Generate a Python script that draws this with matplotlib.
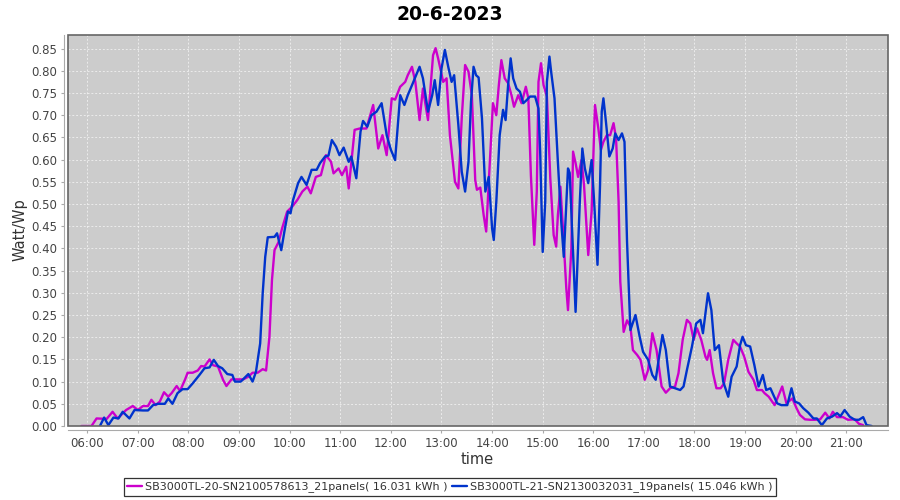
import matplotlib
matplotlib.use("Agg")
import matplotlib.pyplot as plt
from matplotlib.patches import Rectangle

title = "20-6-2023"
series_names = ["SB3000TL-20-SN2100578613_21panels( 16.031 kWh )",
                "SB3000TL-21-SN2130032031_19panels( 15.046 kWh )"]
series_colors = ["#cc00cc", "#0033cc"]

mag_times = ["5:53","6:05","6:11","6:23","6:30","6:36","6:46","6:54","7:00","7:06","7:12","7:16","7:21","7:26",
    "7:31","7:36","7:40","7:46","7:50","7:56","7:59","8:05","8:11","8:15","8:19","8:25","8:29","8:35","8:41",
    "8:45","8:51","8:59","9:05","9:11","9:16","9:22","9:28","9:32","9:36","9:39","9:42","9:47","9:51","9:57",
    "10:03","10:09","10:15","10:21","10:25","10:31","10:37","10:43","10:49","10:52","10:58","11:02","11:07",
    "11:10","11:17","11:23","11:31","11:39","11:45","11:50","11:55","12:01","12:05","12:11","12:17","12:20",
    "12:25","12:29","12:34","12:38","12:44","12:50","12:53","12:56","13:02","13:06","13:10","13:16","13:20",
    "13:24","13:28","13:32","13:36","13:40","13:42","13:46","13:50","13:53","13:58","14:01","14:05","14:08",
    "14:11","14:15","14:19","14:23","14:26","14:31","14:35","14:40","14:43","14:46","14:50","14:53","14:55",
    "14:58","15:01","15:05","15:09","15:13","15:16","15:18","15:21","15:24","15:28","15:30","15:34","15:36",
    "15:39","15:42","15:46","15:49","15:54","15:58","16:02","16:06","16:09","16:12","16:16","16:20","16:24",
    "16:27","16:30","16:32","16:36","16:40","16:44","16:47","16:52","16:56","17:01","17:05","17:10","17:15",
    "17:21","17:26","17:31","17:37","17:41","17:46","17:51","17:55","17:59","18:03","18:08","18:13","18:15",
    "18:18","18:22","18:26","18:31","18:35","18:40","18:46","18:50","18:54","18:59","19:04","19:10","19:14",
    "19:20","19:23","19:28","19:32","19:35","19:44","19:49","19:56","20:01","20:05","20:11","20:17","20:23",
    "20:29","20:35","20:40","20:44","20:49","20:56","21:02","21:10","21:15","21:20"]
mag_values = [0,0,0.017,0.016,0.032,0.017,0.036,0.045,0.036,0.045,0.045,0.059,0.047,0.055,
    0.076,0.066,0.074,0.090,0.079,0.105,0.120,0.120,0.125,0.135,0.134,0.150,0.137,0.134,0.104,
    0.090,0.105,0.105,0.105,0.111,0.120,0.120,0.128,0.125,0.201,0.329,0.396,0.415,0.445,0.483,
    0.494,0.509,0.528,0.539,0.524,0.561,0.565,0.610,0.595,0.569,0.580,0.565,0.584,
    0.535,0.667,0.670,0.670,0.723,0.625,0.655,0.610,0.738,0.735,0.764,0.775,0.790,
    0.809,0.775,0.689,0.760,0.689,0.835,0.851,0.828,0.775,0.783,0.655,0.550,0.535,
    0.693,0.813,0.798,0.745,0.554,0.532,0.537,0.475,0.438,0.618,0.727,0.700,0.768,
    0.824,0.783,0.772,0.745,0.719,0.745,0.727,0.764,0.738,0.565,0.408,0.528,0.775,
    0.817,0.768,0.742,0.558,0.430,0.404,0.475,0.539,0.445,0.310,0.261,0.400,0.618,
    0.592,0.561,0.599,0.543,0.385,0.483,0.723,0.670,0.622,0.640,0.655,0.655,0.682,
    0.648,0.505,0.325,0.212,0.238,0.224,0.171,0.160,0.149,0.104,0.126,0.209,0.171,
    0.089,0.075,0.085,0.089,0.119,0.194,0.239,0.231,0.194,0.220,0.194,0.156,0.149,
    0.171,0.119,0.085,0.085,0.096,0.149,0.194,0.186,0.179,0.156,0.122,0.104,0.081,
    0.081,0.074,0.066,0.055,0.047,0.089,0.051,0.062,0.040,0.025,0.015,0.014,0.014,
    0.015,0.030,0.017,0.032,0.020,0.020,0.014,0.015,0.005,0.002]

blue_times = ["6:15","6:20","6:25","6:31","6:37","6:42","6:50","6:56","7:06","7:12","7:18","7:24","7:32","7:36",
    "7:41","7:47","7:53","7:59","8:05","8:13","8:19","8:25","8:30","8:35","8:40","8:46","8:52","8:55","9:02",
    "9:11","9:16","9:20","9:25","9:28","9:31","9:34","9:42","9:45","9:50","9:54","9:58","10:01","10:04",
    "10:10","10:14","10:20","10:26","10:32","10:36","10:42","10:46","10:50","10:55","10:59","11:04","11:10",
    "11:13","11:19","11:24","11:27","11:32","11:37","11:43","11:49","11:55","12:00","12:05","12:11","12:16",
    "12:20","12:26","12:34","12:38","12:44","12:49","12:52","12:56","13:00","13:04","13:08","13:12","13:15",
    "13:20","13:24","13:28","13:32","13:35","13:38","13:41","13:44","13:48","13:52","13:56","14:00","14:02",
    "14:05","14:09","14:13","14:16","14:19","14:22","14:25","14:29","14:33","14:37","14:41","14:45","14:51",
    "14:55","14:57","15:00","15:03","15:05","15:08","15:10","15:14","15:18","15:22","15:25","15:30","15:32",
    "15:36","15:39","15:44","15:47","15:50","15:54","15:58","16:01","16:05","16:08","16:10","16:12","16:15",
    "16:19","16:23","16:26","16:30","16:34","16:37","16:40","16:44","16:50","16:55","16:59","17:05","17:10",
    "17:14","17:18","17:22","17:26","17:31","17:37","17:43","17:47","17:51","17:57","18:02","18:07","18:10",
    "18:16","18:20","18:24","18:29","18:34","18:40","18:44","18:50","18:54","18:57","19:01","19:06","19:11",
    "19:16","19:21","19:25","19:30","19:38","19:43","19:50","19:55","19:59","20:04","20:09","20:15","20:21",
    "20:25","20:31","20:37","20:43","20:49","20:53","20:58","21:04","21:10","21:15","21:20","21:24","21:30"]
blue_values = [0,0.019,0.002,0.019,0.017,0.032,0.017,0.036,0.035,0.035,0.047,0.050,0.050,0.062,
    0.050,0.074,0.083,0.083,0.096,0.115,0.130,0.132,0.149,0.135,0.130,0.117,0.115,0.100,0.100,
    0.117,0.100,0.122,0.186,0.299,0.381,0.425,0.426,0.434,0.396,0.441,0.483,0.479,0.509,
    0.547,0.561,0.543,0.577,0.577,0.592,0.607,0.609,0.644,0.629,0.610,0.627,0.595,
    0.607,0.558,0.663,0.687,0.674,0.700,0.708,0.727,0.655,0.622,0.599,0.745,0.723,
    0.745,0.772,0.809,0.783,0.708,0.745,0.779,0.723,0.805,0.847,0.809,0.775,0.790,
    0.678,0.573,0.528,0.595,0.730,0.809,0.790,0.785,0.693,0.528,0.561,0.445,0.419,
    0.505,0.655,0.712,0.689,0.768,0.828,0.783,0.760,0.753,0.727,0.734,0.742,0.742,
    0.715,0.618,0.392,0.505,0.775,0.832,0.798,0.738,0.595,0.460,0.381,0.580,0.570,
    0.392,0.257,0.505,0.625,0.580,0.547,0.599,0.505,0.363,0.543,0.708,0.738,0.685,
    0.607,0.625,0.659,0.644,0.659,0.640,0.415,0.216,0.250,0.201,0.167,0.149,0.115,
    0.104,0.156,0.205,0.171,0.089,0.085,0.081,0.089,0.126,0.179,0.231,0.239,0.209,
    0.299,0.261,0.171,0.182,0.100,0.066,0.111,0.134,0.182,0.201,0.182,0.179,0.137,
    0.089,0.115,0.081,0.085,0.051,0.047,0.047,0.085,0.055,0.051,0.040,0.030,0.017,
    0.017,0.002,0.017,0.021,0.029,0.022,0.036,0.021,0.014,0.014,0.020,0.002,0.0]

x_tick_labels = ["06:00","07:00","08:00","09:00","10:00","11:00","12:00","13:00","14:00",
                 "15:00","16:00","17:00","18:00","19:00","20:00","21:00"]
y_ticks = [0.00,0.05,0.10,0.15,0.20,0.25,0.30,0.35,0.40,0.45,0.50,0.55,0.60,0.65,0.70,0.75,0.80,0.85]


def to_hours(t):
    h, m = t.split(":")
    return int(h) + int(m) / 60.0


fig = plt.figure(figsize=(9, 5), dpi=100)
ax = fig.add_axes([68/900, 1-426/500, (888-68)/900, (426-35)/500])
ax.set_facecolor("#cccccc")

series = [(mag_times, mag_values), (blue_times, blue_values)]
for (ts, vs), name, col in zip(series, series_names, series_colors):
    ax.plot([to_hours(t) for t in ts], vs, color=col, lw=1.7, label=name,
            solid_joinstyle="round", solid_capstyle="round", zorder=3)

ax.set_xlim(5.619, 21.824)
ax.set_ylim(0, 0.8806)
ax.set_xticks([to_hours(t) for t in x_tick_labels])
ax.set_xticklabels(x_tick_labels)
ax.set_yticks(y_ticks)
ax.set_yticklabels([f"{v:.2f}" for v in y_ticks])

ax.grid(True, color="#f4f4f4", linestyle=(0, (2.5, 2.5)), linewidth=0.55, zorder=1)
ax.set_axisbelow(True)

for s in ["top", "right"]:
    ax.spines[s].set_visible(False)
for s in ["left", "bottom"]:
    ax.spines[s].set_position(("outward", 3))
    ax.spines[s].set_color("#aaaaaa")
    ax.spines[s].set_linewidth(0.8)
ax.add_patch(Rectangle((0, 0), 1, 1, transform=ax.transAxes, fill=False,
                       edgecolor="#666666", lw=1.2, zorder=5, clip_on=False))

ax.tick_params(axis="both", colors="#aaaaaa", labelcolor="#444444", labelsize=8.5,
               length=2, width=0.8, pad=3)

fig.text(450/900, 1-14/500, title, ha="center", va="center", fontsize=13.5, fontweight="bold")
fig.text(20/900, 1-230/500, "Watt/Wp", rotation=90, ha="center", va="center", fontsize=10.5, color="#333333")
fig.text(477/900, 1-460/500, "time", ha="center", va="center", fontsize=10.5, color="#333333")

leg = fig.legend(loc="center", bbox_to_anchor=(450/900, 1-487/500), ncol=2, fontsize=8,
                 frameon=True, fancybox=False, edgecolor="black", handlelength=1.3,
                 handletextpad=0.3, columnspacing=0.4, borderpad=0.3, borderaxespad=0)
leg.get_frame().set_linewidth(0.9)
for t in leg.get_texts():
    t.set_color("#333333")

fig.savefig("out.png", dpi=100)
